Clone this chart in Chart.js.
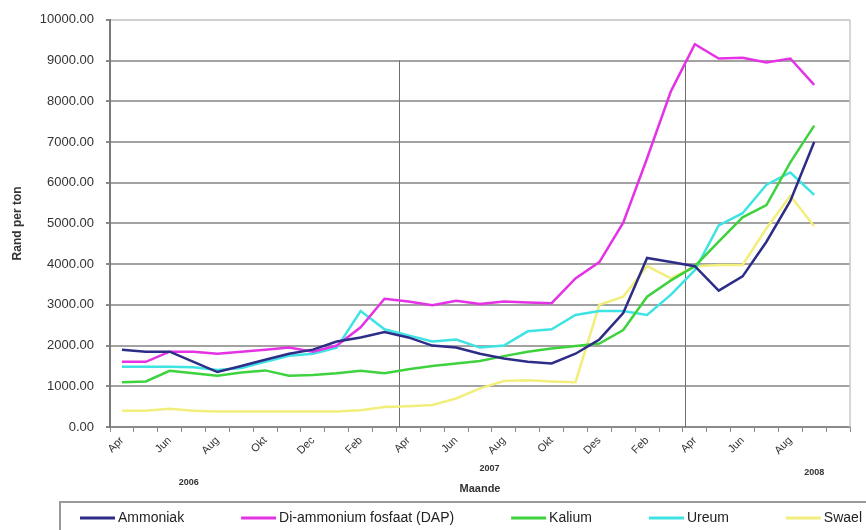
<!DOCTYPE html>
<html>
<head>
<meta charset="utf-8">
<script src="https://cdn.jsdelivr.net/npm/chart.js@4.4.1/dist/chart.umd.min.js"></script>
<style>
  html, body { margin: 0; padding: 0; background: #fff; }
  #wrap { width: 866px; height: 530px; }
</style>
</head>
<body>
<div id="wrap"><canvas id="prices"></canvas></div>
<script>
const months = ['Apr', 'Mei', 'Jun', 'Jul', 'Aug', 'Sep', 'Okt', 'Nov', 'Dec', 'Jan', 'Feb', 'Mrt',
                'Apr', 'Mei', 'Jun', 'Jul', 'Aug', 'Sep', 'Okt', 'Nov', 'Des', 'Jan', 'Feb', 'Mrt',
                'Apr', 'Mei', 'Jun', 'Jul', 'Aug', 'Sep', 'Okt']
const years = ['2006', '2007', '2008']

// Rand per ton, Apr 2006 - Sep 2008
const ammoniak = [1900, 1850, 1850, 1600, 1350, 1500, 1650, 1800, 1900, 2100, 2200, 2330,
                  2200, 2000, 1950, 1800, 1680, 1600, 1560, 1800, 2150, 2800, 4150, 4050,
                  3950, 3350, 3700, 4550, 5550, 7000]
const dap = [1600, 1600, 1850, 1850, 1800, 1850, 1900, 1950, 1850, 2000, 2450, 3150,
             3080, 2990, 3100, 3020, 3080, 3060, 3040, 3650, 4050, 5020, 6600, 8250,
             9400, 9050, 9070, 8950, 9050, 8400]
const kalium = [1100, 1120, 1380, 1320, 1260, 1340, 1390, 1260, 1280, 1320, 1380, 1320,
                1420, 1500, 1560, 1620, 1740, 1850, 1930, 1990, 2050, 2380, 3200, 3600,
                3950, 4550, 5150, 5450, 6500, 7400]
const ureum = [1480, 1480, 1480, 1470, 1400, 1450, 1600, 1750, 1800, 1950, 2850, 2400,
               2250, 2100, 2150, 1950, 2000, 2350, 2400, 2750, 2850, 2850, 2750, 3250,
               3850, 4950, 5250, 5950, 6250, 5700]
const swael = [400, 400, 450, 400, 380, 380, 380, 380, 380, 380, 410, 490,
               510, 540, 700, 950, 1130, 1150, 1120, 1100, 3000, 3200, 3950, 3650,
               3950, 3980, 3980, 4880, 5680, 4930]

const FONT = '"Liberation Sans", Arial, sans-serif'

// year dividers, year captions and the framed legend underneath
const yearMarks = {
    id: 'yearMarks',
    beforeDatasetsDraw(chart) {
        const {ctx, chartArea, scales: {x, y}} = chart
        ctx.save()
        ctx.strokeStyle = '#c8c8c8'
        ctx.lineWidth = 1.5
        ctx.beginPath()
        ctx.moveTo(chartArea.right, chartArea.top)
        ctx.lineTo(chartArea.right, chartArea.bottom)
        ctx.stroke()

        ctx.strokeStyle = '#6e6e6e'
        ctx.lineWidth = 1
        ;[11.6, 23.6].forEach(v => {
            const px = Math.round(x.getPixelForValue(v)) + 0.5
            ctx.beginPath()
            ctx.moveTo(px, y.getPixelForValue(9000))
            ctx.lineTo(px, y.getPixelForValue(0))
            ctx.stroke()
        })
        ctx.restore()
    },
    afterDraw(chart) {
        const {ctx, width, chartArea, scales: {x}} = chart
        ctx.save()
        ctx.fillStyle = '#333'
        ctx.font = 'bold 9px ' + FONT
        ctx.textAlign = 'center'
        ctx.textBaseline = 'middle'
        const spots = [[2.8, 56], [15.4, 42], [29.0, 46]]
        years.forEach((yr, i) => {
            ctx.fillText(yr, x.getPixelForValue(spots[i][0]), chartArea.bottom + spots[i][1])
        })

        const top = 502, mid = 518
        ctx.strokeStyle = '#9a9a9a'
        ctx.lineWidth = 2
        ctx.strokeRect(60, top, width, 40)

        ctx.font = '14px ' + FONT
        ctx.textAlign = 'left'
        const sets = chart.data.datasets
        const sample = 35, gap = 3
        const widths = sets.map(d => sample + gap + ctx.measureText(d.label).width)
        const left = 80, right = 862
        const space = (right - left - widths.reduce((a, b) => a + b, 0)) / (sets.length - 1)
        let cx = left
        sets.forEach((d, i) => {
            ctx.strokeStyle = d.borderColor
            ctx.lineWidth = 3
            ctx.beginPath()
            ctx.moveTo(cx, mid)
            ctx.lineTo(cx + sample, mid)
            ctx.stroke()
            ctx.fillStyle = '#222'
            ctx.fillText(d.label, cx + sample + gap, mid)
            cx += widths[i] + space
        })
        ctx.restore()
    }
}

const line = (label, data, color) => ({
    label: label,
    data: data,
    borderColor: color,
    backgroundColor: color,
    borderWidth: 2.5,
    pointRadius: 0,
    tension: 0
})

const config = {
    type: 'line',
    data: {
        labels: months,
        datasets: [
            line('Ammoniak', ammoniak, '#2d2d88'),
            line('Di-ammonium fosfaat (DAP)', dap, '#e433e4'),
            line('Kalium', kalium, '#3fd23f'),
            line('Ureum', ureum, '#3fe3e3'),
            line('Swael', swael, '#f2ee7c')
        ]
    },
    options: {
        responsive: true,
        maintainAspectRatio: false,
        animation: false,
        layout: {
            padding: {left: 6, right: 16, top: 15, bottom: 28}
        },
        scales: {
            x: {
                offset: true,
                grid: {
                    offset: true,
                    drawOnChartArea: false,
                    tickLength: 5,
                    tickColor: '#8a8a8a'
                },
                border: {color: '#8a8a8a', width: 2},
                ticks: {
                    autoSkip: false,
                    minRotation: 45,
                    maxRotation: 45,
                    padding: 2,
                    color: '#333',
                    font: {family: FONT, size: 11},
                    // every second month, the trailing empty month gets no caption
                    callback: (v, i) => i % 2 === 0 && i < months.length - 1 ? months[i] : ''
                },
                title: {
                    display: true,
                    text: 'Maande',
                    color: '#333',
                    font: {family: FONT, size: 11, weight: 'bold'},
                    padding: {top: 0, bottom: 6}
                },
                afterFit: scale => { scale.height = 75 }
            },
            y: {
                min: 0,
                max: 10000,
                grid: {
                    color: ctx => ctx.tick && ctx.tick.value === 10000 ? '#d0d0d0' : '#a2a2a2',
                    lineWidth: 2,
                    tickLength: 4,
                    tickColor: '#8a8a8a'
                },
                border: {color: '#7a7a7a', width: 2},
                ticks: {
                    stepSize: 1000,
                    padding: 12,
                    color: '#333',
                    font: {family: FONT, size: 13},
                    callback: v => v.toFixed(2)
                },
                title: {
                    display: true,
                    text: 'Rand per ton',
                    color: '#333',
                    font: {family: FONT, size: 12, weight: 'bold'},
                    padding: {top: 4, bottom: 0}
                },
                afterFit: scale => { scale.width = 104 }
            }
        },
        plugins: {
            legend: {display: false},
            tooltip: {enabled: false}
        }
    },
    plugins: [yearMarks]
}

new Chart(document.getElementById('prices'), config)
</script>
</body>
</html>
